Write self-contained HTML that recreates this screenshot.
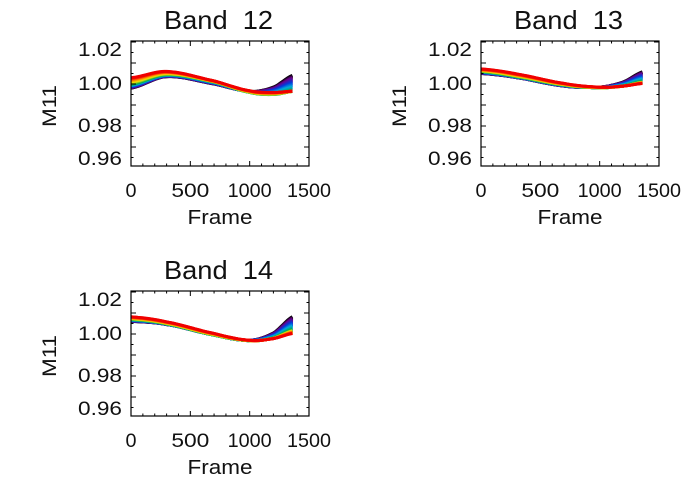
<!DOCTYPE html>
<html><head><meta charset="utf-8"><style>
html,body{margin:0;padding:0;background:#fff;}
svg{display:block;}
text{font-family:"Liberation Sans",sans-serif;fill:#111;}
</style></head><body>
<svg id="s" width="700" height="500" xmlns="http://www.w3.org/2000/svg"></svg>
<script>
const S=document.getElementById('s');
let h='';
const xs=[0,300,700,1000,1200,1370];
const bands=[
 {name:'Band  12',ox:131,oy:41,k:[
  [0.998,1.0035,1.000,0.9965,0.9985,1.0043],
  [1.000,1.0045,1.001,0.9960,0.9950,0.9965],
  [1.003,1.006,1.0015,0.9968,0.9960,0.9966]]},
 {name:'Band  13',ox:481,oy:41,k:[
  [1.005,1.003,0.999,0.9985,1.001,1.006],
  [1.006,1.0035,0.9995,0.9982,0.9990,1.0010],
  [1.0072,1.0048,1.0003,0.9985,0.9990,1.0003]]},
 {name:'Band  14',ox:131,oy:291,k:[
  [1.006,1.0045,0.9995,0.997,1.0005,1.0085],
  [1.007,1.0048,0.9995,0.9968,0.9980,1.0020],
  [1.0082,1.0058,1.0003,0.9970,0.9978,1.0003]]}
];
function col(t){
 const st=[[0,0,0,0],[0.12,110,0,140],[0.3,0,60,220],[0.45,0,170,220],[0.6,0,170,80],[0.75,240,230,0],[0.87,255,140,0],[1,240,0,0]];
 for(let i=1;i<st.length;i++){if(t<=st[i][0]){const a=st[i-1],b=st[i],u=(t-a[0])/(b[0]-a[0]);
  return `rgb(${Math.round(a[1]+u*(b[1]-a[1]))},${Math.round(a[2]+u*(b[2]-a[2]))},${Math.round(a[3]+u*(b[3]-a[3]))})`;}}
 return 'rgb(240,0,0)';
}
function spline(px,py,x){
 let i=0;while(i<px.length-2&&x>px[i+1])i++;
 const p0=py[Math.max(i-1,0)],p1=py[i],p2=py[i+1],p3=py[Math.min(i+2,py.length-1)];
 const u=(x-px[i])/(px[i+1]-px[i]);
 return 0.5*((2*p1)+(-p0+p2)*u+(2*p0-5*p1+4*p2-p3)*u*u+(-p0+3*p1-3*p2+p3)*u*u*u);
}
for(const b of bands){
 const X=v=>b.ox+v*178/1500, Y=v=>b.oy+43-(v-1)*2100;
 h+=`<defs><clipPath id="c${b.ox}${b.oy}"><rect x="${b.ox}" y="${b.oy}" width="178" height="125"/></clipPath></defs>`;
 h+=`<g clip-path="url(#c${b.ox}${b.oy})">`;
 const N=40;
 for(let j=0;j<=N;j++){
  const t=j/N;let ys;
  if(t<=0.6){const u=t/0.6;ys=b.k[0].map((v,i)=>v+u*(b.k[1][i]-v));}
  else{const u=(t-0.6)/0.4;ys=b.k[1].map((v,i)=>v+u*(b.k[2][i]-v));}
  let d='';
  for(let x=0;x<=1370;x+=20){d+=(x?'L':'M')+X(x).toFixed(1)+' '+Y(spline(xs,ys,x)).toFixed(1);}
  h+=`<path d="${d}" fill="none" stroke="${col(t)}" stroke-width="3"/>`;
 }
 h+='</g>';
 h+=`<rect x="${b.ox}" y="${b.oy}" width="178" height="125" fill="none" stroke="#000" stroke-width="1.2"/>`;
 for(let v=0;v<=1500;v+=100){const x=X(v),L=(v%500==0)?5:2.5;
  h+=`<line x1="${x}" y1="${b.oy+125}" x2="${x}" y2="${b.oy+125-L}" stroke="#000"/><line x1="${x}" y1="${b.oy}" x2="${x}" y2="${b.oy+L}" stroke="#000"/>`;}
 for(let v=0.96;v<=1.0201;v+=0.005){const y=Y(v);if(y<b.oy||y>b.oy+125)continue;
  const L=(Math.abs(Math.round(v*100)-v*100)<1e-6)?5:2.5;
  h+=`<line x1="${b.ox}" y1="${y}" x2="${b.ox+L}" y2="${y}" stroke="#000"/><line x1="${b.ox+178}" y1="${y}" x2="${b.ox+178-L}" y2="${y}" stroke="#000"/>`;}
 const yl=[['1.02',8],['1.00',42],['0.98',84],['0.96',117]];
 for(const [s,dy] of yl)h+=`<text x="${b.ox-53}" y="${b.oy+dy+7}" font-size="19" textLength="44" lengthAdjust="spacingAndGlyphs">${s}</text>`;
 [[0,'0',11],[500,'500',38],[1000,'1000',44],[1500,'1500',44]].forEach(([v,s,w])=>{h+=`<text x="${X(v)-w/2}" y="${b.oy+156}" font-size="19" textLength="${w}" lengthAdjust="spacingAndGlyphs">${s}</text>`;});
 h+=`<text x="${b.ox+89-32.5}" y="${b.oy+183}" font-size="20" textLength="65" lengthAdjust="spacingAndGlyphs">Frame</text>`;
 h+=`<text x="${b.ox+87.5-54.5}" y="${b.oy-12}" font-size="26" textLength="109" lengthAdjust="spacingAndGlyphs" xml:space="preserve">${b.name}</text>`;
 h+=`<text transform="translate(${b.ox-75},${b.oy+86}) rotate(-90)" font-size="19" textLength="42" lengthAdjust="spacingAndGlyphs">M11</text>`;
}
S.innerHTML=h;
</script>
</body></html>
